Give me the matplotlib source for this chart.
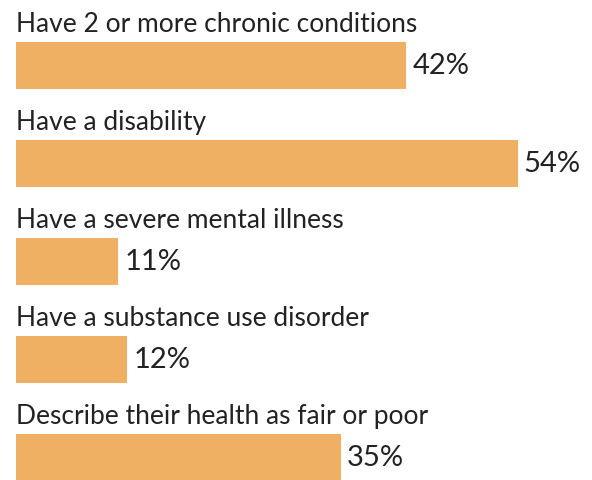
"""
Horizontal bar chart of health characteristics shares.
"""

import matplotlib.pyplot as plt

labels = [
    "Have 2 or more chronic conditions",
    "Have a disability",
    "Have a severe mental illness",
    "Have a substance use disorder",
    "Describe their health as fair or poor",
]
values = [42, 54, 11, 12, 35]

BAR_COLOR = "#F0B064"
TEXT_COLOR = "#222222"


def main():
    plt.rcParams["font.family"] = ["Lato", "DejaVu Sans"]

    fig = plt.figure(figsize=(5.92, 4.81), dpi=100)
    ax = fig.add_axes([0, 0, 1, 1])

    px = 9.29  # pixels per percentage point
    pitch = 98.0
    ax.set_xlim(-16 / px, (592 - 16) / px)
    ax.set_ylim((481 - 66.5) / pitch, -66.5 / pitch)

    ypos = list(range(len(values)))
    ax.barh(ypos, values, height=0.47, color=BAR_COLOR, left=0)

    for i, (lab, v) in enumerate(zip(labels, values)):
        ax.text(0, i - 0.235 - 11 / pitch, lab, fontsize=19, color=TEXT_COLOR,
                fontweight="normal", ha="left", va="baseline")
        ax.text(v + 6 / px, i, f"{v}%", fontsize=21, color=TEXT_COLOR,
                fontweight="normal", ha="left", va="center")

    ax.axis("off")
    fig.savefig("out.png", dpi=100)


if __name__ == "__main__":
    main()
